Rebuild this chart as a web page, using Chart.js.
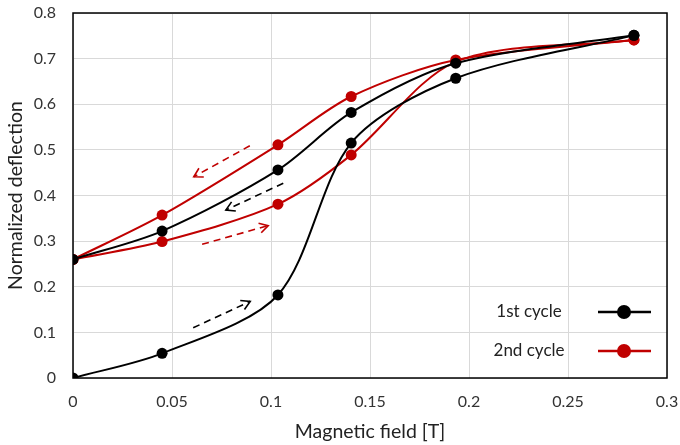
<!DOCTYPE html>
<html>
<head>
<meta charset="utf-8">
<script src="https://cdn.jsdelivr.net/npm/chart.js@4/dist/chart.umd.min.js"></script>
<style>
html,body{margin:0;padding:0;background:#fff;}
#wrap{width:680px;height:445px;position:relative;}
</style>
</head>
<body>
<div id="wrap"><canvas id="c" width="680" height="445"></canvas></div>
<script>
// ---- data ----
const seriesNames = ['1st cycle', '2nd cycle'];
const field1Up   = [0, 0.045, 0.1035, 0.1405, 0.1933, 0.2833];
const defl1Up    = [0, 0.054, 0.182, 0.515, 0.657, 0.751];
const field1Down = [0.2833, 0.1933, 0.1405, 0.1035, 0.045, 0];
const defl1Down  = [0.751, 0.690, 0.582, 0.456, 0.322, 0.260];
const field2Up   = [0, 0.045, 0.1035, 0.1405, 0.1933, 0.2833];
const defl2Up    = [0.260, 0.299, 0.381, 0.489, 0.693, 0.741];
const field2Down = [0.2833, 0.1933, 0.1405, 0.1035, 0.045, 0];
const defl2Down  = [0.741, 0.697, 0.617, 0.511, 0.357, 0.260];
const xTickValues = [0, 0.05, 0.1, 0.15, 0.2, 0.25, 0.3];
const yTickValues = [0, 0.1, 0.2, 0.3, 0.4, 0.5, 0.6, 0.7, 0.8];
// arrows in data units
const arrowStartX = [0.0607, 0.0652, 0.1062, 0.0893];
const arrowStartY = [0.110, 0.293, 0.427, 0.509];
const arrowEndX   = [0.0895, 0.0986, 0.0772, 0.0610];
const arrowEndY   = [0.168, 0.334, 0.368, 0.441];
const arrowSeries = [0, 1, 0, 1];

const colors = ['#000000', '#c00000'];
const zip = (xs, ys) => xs.map((x, i) => ({x: x, y: ys[i]}));

function mk(label, xs, ys, ci) {
  return {
    label: label,
    data: zip(xs, ys),
    showLine: true,
    borderColor: colors[ci],
    backgroundColor: colors[ci],
    borderWidth: 2,
    pointRadius: 5.5,
    pointHoverRadius: 5.5,
    pointBorderWidth: 0,
    tension: 0.3,
    fill: false
  };
}

const FONT = 'Lato, "Open Sans", sans-serif';

const framePlugin = {
  id: 'frame',
  afterDraw(chart) {
    const {ctx, chartArea: a} = chart;
    ctx.save();
    ctx.strokeStyle = '#000';
    ctx.lineWidth = 1.5;
    ctx.strokeRect(a.left, a.top, a.right - a.left, a.bottom - a.top);
    ctx.restore();
  }
};

const arrowPlugin = {
  id: 'arrows',
  afterDatasetsDraw(chart) {
    const {ctx, scales: {x, y}} = chart;
    ctx.save();
    for (let i = 0; i < arrowStartX.length; i++) {
      const x0 = x.getPixelForValue(arrowStartX[i]);
      const y0 = y.getPixelForValue(arrowStartY[i]);
      const x1 = x.getPixelForValue(arrowEndX[i]);
      const y1 = y.getPixelForValue(arrowEndY[i]);
      ctx.strokeStyle = colors[arrowSeries[i]];
      ctx.lineWidth = 1.6;
      ctx.setLineDash([7, 5]);
      ctx.beginPath();
      ctx.moveTo(x0, y0);
      ctx.lineTo(x1, y1);
      ctx.stroke();
      ctx.setLineDash([]);
      const ang = Math.atan2(y1 - y0, x1 - x0);
      const L = 10, h = Math.PI / 6;
      ctx.beginPath();
      ctx.moveTo(x1 - L * Math.cos(ang - h), y1 - L * Math.sin(ang - h));
      ctx.lineTo(x1, y1);
      ctx.lineTo(x1 - L * Math.cos(ang + h), y1 - L * Math.sin(ang + h));
      ctx.stroke();
    }
    ctx.restore();
  }
};

const legendPlugin = {
  id: 'customLegend',
  afterDraw(chart) {
    const {ctx, chartArea: a} = chart;
    ctx.save();
    ctx.font = '17px ' + FONT;
    ctx.textAlign = 'center';
    ctx.textBaseline = 'middle';
    const rows = [a.bottom - 66, a.bottom - 27];
    seriesNames.forEach((n, i) => {
      const yy = rows[i];
      ctx.fillStyle = '#222';
      ctx.fillText(n, a.right - 138, yy);
      ctx.strokeStyle = colors[i];
      ctx.lineWidth = 2.4;
      ctx.beginPath();
      ctx.moveTo(a.right - 69, yy);
      ctx.lineTo(a.right - 16, yy);
      ctx.stroke();
      ctx.fillStyle = colors[i];
      ctx.beginPath();
      ctx.arc(a.right - 43, yy, 7, 0, Math.PI * 2);
      ctx.fill();
    });
    ctx.restore();
  }
};

const fmt = v => String(+(+v).toFixed(2));
const zeroPad = s => { s.paddingLeft = 0; s.paddingRight = 0; s.paddingTop = 0; s.paddingBottom = 0; };

new Chart(document.getElementById('c'), {
  type: 'scatter',
  data: {
    datasets: [
      mk(seriesNames[0], field1Up, defl1Up, 0),
      mk(seriesNames[0], field1Down, defl1Down, 0),
      mk(seriesNames[1], field2Up, defl2Up, 1),
      mk(seriesNames[1], field2Down, defl2Down, 1)
    ]
  },
  options: {
    responsive: false,
    animation: false,
    layout: {padding: {left: 4, right: 13, top: 13, bottom: 2}},
    plugins: {legend: {display: false}, tooltip: {enabled: false}},
    scales: {
      x: {
        type: 'linear', min: 0, max: 0.3,
        afterBuildTicks: s => { s.ticks = xTickValues.map(v => ({value: v})); },
        ticks: {callback: fmt, font: {family: FONT, size: 16}, color: '#333', padding: 14, maxRotation: 0},
        grid: {color: '#d9d9d9', lineWidth: 1, drawTicks: false},
        border: {display: false},
        title: {display: true, text: 'Magnetic field [T]', font: {family: FONT, size: 19.5}, color: '#222', padding: {top: 4, bottom: 0}},
        afterFit: s => { s.height = 65; zeroPad(s); }
      },
      y: {
        type: 'linear', min: 0, max: 0.8,
        afterBuildTicks: s => { s.ticks = yTickValues.map(v => ({value: v})); },
        ticks: {callback: fmt, font: {family: FONT, size: 16}, color: '#333', padding: 17},
        grid: {color: '#d9d9d9', lineWidth: 1, drawTicks: false},
        border: {display: false},
        title: {display: true, text: 'Normalized deflection', font: {family: FONT, size: 19.5}, color: '#222', padding: {top: 0, bottom: 2}},
        afterFit: s => { s.width = 69; zeroPad(s); }
      }
    }
  },
  plugins: [framePlugin, arrowPlugin, legendPlugin]
});
</script>
</body>
</html>
